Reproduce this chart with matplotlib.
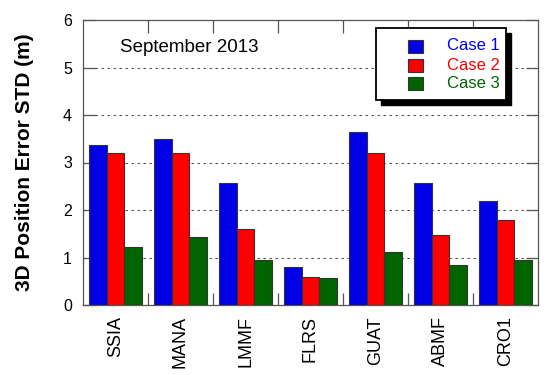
import matplotlib
matplotlib.use("Agg")
import matplotlib.pyplot as plt
from matplotlib.patches import Rectangle
import numpy as np

plt.rcParams['font.family'] = ['Liberation Sans', 'DejaVu Sans']

stations = ["SSIA", "MANA", "LMMF", "FLRS", "GUAT", "ABMF", "CRO1"]
case1 = [3.36, 3.49, 2.56, 0.79, 3.64, 2.57, 2.18]
case2 = [3.19, 3.19, 1.61, 0.58, 3.21, 1.47, 1.79]
case3 = [1.22, 1.43, 0.95, 0.56, 1.12, 0.84, 0.95]
series_names = ["Case 1", "Case 2", "Case 3"]
bar_colors = ["#0000E6", "#FF0000", "#006400"]
text_colors = ["#0000FF", "#FF0000", "#006400"]
yticks = [0, 1, 2, 3, 4, 5, 6]

fig = plt.figure(figsize=(5.5, 3.75), dpi=100)
ax = fig.add_axes([83/550, 1-305/375, 455/550, 285/375])

x = np.arange(len(stations))
w = 0.27
for i, (vals, c) in enumerate(zip([case1, case2, case3], bar_colors)):
    ax.bar(x + (i-1)*w, vals, width=w, color=c, edgecolor="#333333",
           linewidth=0.8, zorder=3)

ax.set_xlim(-0.5, len(stations)-0.5)
ax.set_ylim(0, 6)
ax.set_yticks(yticks)
ax.set_yticklabels([str(v) for v in yticks], fontsize=11.5)
for v in yticks[1:-1]:
    ax.axhline(v, color="#555555", linestyle=(0, (2.2, 3.2)), linewidth=0.8, zorder=1)

ax.set_xticks(x)
ax.set_xticklabels(stations, rotation=90, fontsize=13)
ax.tick_params(axis='x', which='major', length=0, pad=8)
ax.set_xticks(np.arange(0.5, len(stations)-0.5, 1), minor=True)
ax.tick_params(axis='x', which='minor', direction='in', length=9, top=True,
               bottom=True, color="#555555", width=0.9)
ax.tick_params(axis='y', which='major', direction='in', length=9, left=True,
               right=True, color="#555555", width=0.9, pad=8)
for s in ax.spines.values():
    s.set_color("#555555")
    s.set_linewidth(0.9)

ax.set_ylabel("3D Position Error STD (m)", fontsize=15, fontweight='bold')
ax.yaxis.set_label_coords(-0.108, 0.5)

ax.text(0.233, 0.905, "September 2013", transform=ax.transAxes,
        ha='center', va='center', fontsize=13.5)

# legend box with shadow
W, H = 550.0, 375.0
def fx(px):
    return px / W
def fy(py):
    return 1 - py / H
x0, x1, ytop, ybot = 376, 506, 28, 100
shadow = Rectangle((fx(x0+5), fy(ybot+5)), fx(x1-x0), (ybot-ytop)/H,
                   transform=fig.transFigure, facecolor='black', edgecolor='black', zorder=10)
frame = Rectangle((fx(x0), fy(ybot)), fx(x1-x0), (ybot-ytop)/H,
                  transform=fig.transFigure, facecolor='white', edgecolor='black',
                  linewidth=1.3, zorder=11)
fig.add_artist(shadow)
fig.add_artist(frame)
centers = [46, 65, 83.5]
for name, c, tc, cy in zip(series_names, bar_colors, text_colors, centers):
    r = Rectangle((fx(408), fy(cy+6.5)), fx(15), 13/H, transform=fig.transFigure,
                  facecolor=c, edgecolor="#333333", linewidth=0.8, zorder=12)
    fig.add_artist(r)
    fig.text(fx(447), fy(cy), name, color=tc, fontsize=12, ha='left', va='center',
             zorder=13)

fig.savefig("out.png", dpi=100)
